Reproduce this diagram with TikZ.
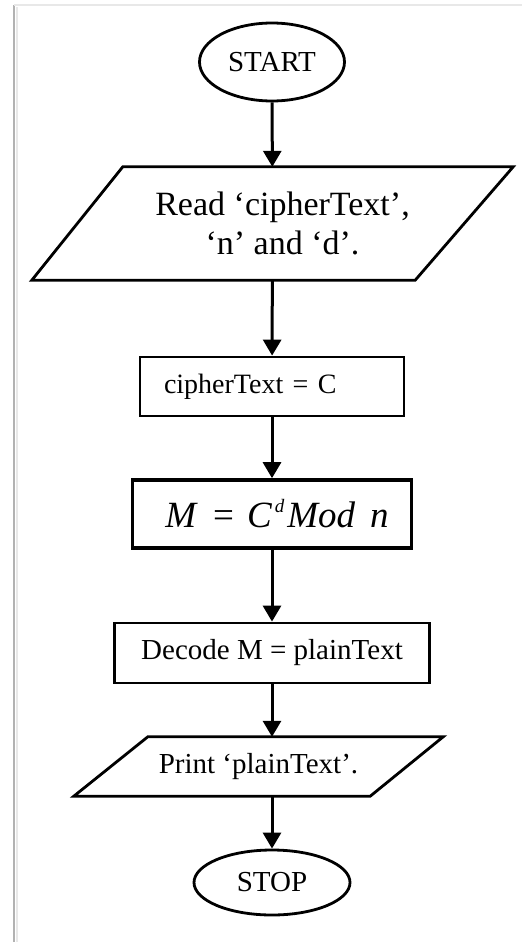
\documentclass[tikz,border=0pt]{standalone}
\usepackage{fontspec}
\setmainfont{Liberation Serif}
\usetikzlibrary{arrows.meta,shapes.geometric}

\begin{document}
\begin{tikzpicture}[x=1pt,y=-1pt,
  font=\fontsize{29}{35}\selectfont,
  terminal/.style={draw,ellipse,line width=2.8pt,inner sep=0pt},
  io/.style={rectangle,inner sep=0pt},
  ioline/.style={line width=2.8pt,line join=miter},
  process/.style={draw,rectangle,line width=2.8pt},
  to/.style={-{Triangle[width=18pt,length=16pt]},line width=3pt},
  every node/.style={align=center}]

  % page edge
  \useasboundingbox (0,0) rectangle (522,942);
  \draw[gray!18,line width=2pt] (16.5,942) -- (16.5,7);
  \draw[gray!60,line width=2pt] (14,942) -- (14,5);
  \draw[gray!18,line width=1.5pt] (14,5) -- (522,5);

  % Position the nodes at fixed coordinates, top to bottom
  \node[terminal,minimum width=145pt,minimum height=78pt] (start) at (272,62) {START};
  \node[io,minimum width=481pt,minimum height=113pt,
        font=\fontsize{34}{39}\selectfont] (read) at (272.5,223.5)
        {\hspace*{20pt}Read ‘cipherText’,\\\hspace*{20pt}‘n’ and ‘d’.};
  \node[process,text width=216pt,inner xsep=24pt,align=left,minimum height=59pt,
        font=\fontsize{28}{33}\selectfont] (cipher) at (272,386.5) {cipherText = C};
  \node[process,line width=3.6pt,minimum width=279pt,minimum height=68pt,
        font=\fontsize{37}{42}\selectfont] (modexp) at (272,514)
        {\hspace*{10pt}\itshape M\hspace{17pt}\upshape=\hspace{13pt}\itshape
         C\hspace{3pt}\raisebox{15pt}{\fontsize{19}{19}\selectfont d}\hspace{3pt}Mod\hspace{15pt}n};
  \node[process,minimum width=315pt,minimum height=60pt] (decode) at (272,653)
        {Decode M = plainText};
  \node[io,minimum width=369pt,minimum height=59pt] (print) at (258.5,766.5)
        {Print ‘plainText’.};
  \node[terminal,minimum width=156pt,minimum height=65pt] (stop) at (272,882.5) {STOP};

  % Slanted outlines of the input/output boxes
  \draw[ioline] ([xshift=91pt]read.north west) -- (read.north east)
    -- ([xshift=-98pt]read.south east) -- (read.south west) -- cycle;
  \draw[ioline] ([xshift=74pt]print.north west) -- (print.north east)
    -- ([xshift=-73pt]print.south east) -- (print.south west) -- cycle;

  % Draw the arrows between the nodes
  \draw[to] (start) -- (read);
  \draw[to] (read) -- (cipher);
  \draw[to] (cipher) -- (modexp);
  \draw[to] (modexp) -- (decode);
  \draw[to] (decode) -- (decode |- print.north);
  \draw[to] (print.south -| stop) -- (stop);
\end{tikzpicture}
\end{document}
